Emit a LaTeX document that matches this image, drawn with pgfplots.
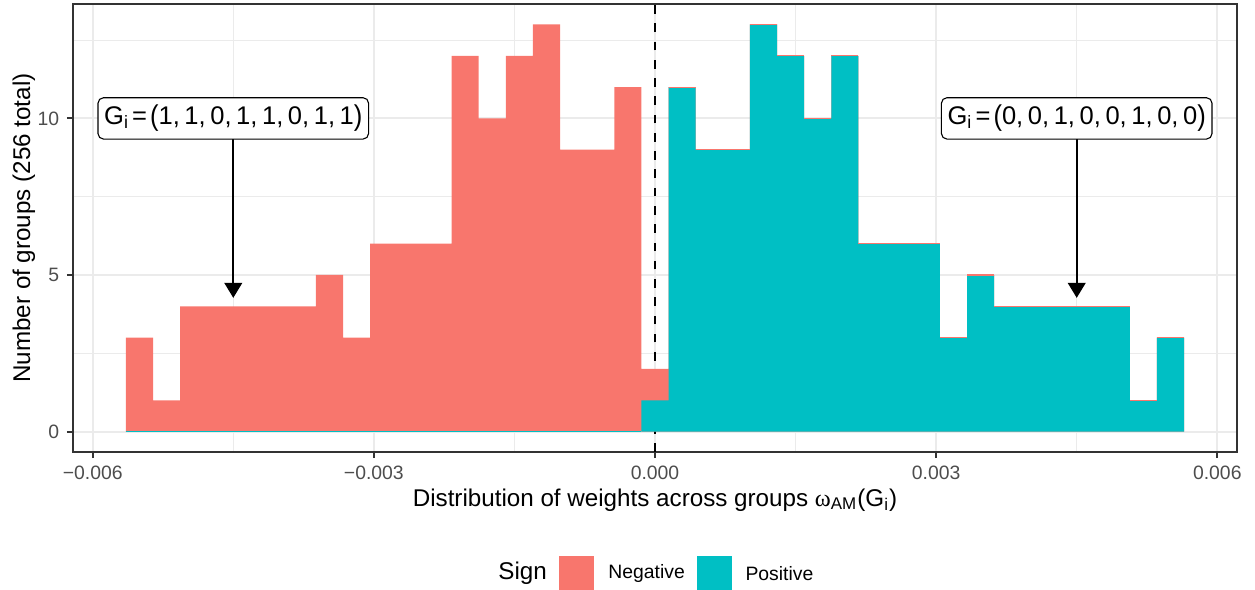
\documentclass[border=0pt]{standalone}
\usepackage{fontspec}
\setmainfont{Liberation Sans}
\newfontfamily\serifom{Liberation Serif}
\usepackage{pgfplots}
\pgfplotsset{compat=1.18}
\usepackage{pgfplotstable}
\usetikzlibrary{arrows.meta}
\definecolor{negc}{HTML}{F8766D}
\definecolor{posc}{HTML}{00BFC4}
\definecolor{gridc}{HTML}{EBEBEB}
\definecolor{gray20}{HTML}{333333}
\definecolor{gray30}{HTML}{4D4D4D}

\pgfplotstableread{
k neg pos
-19 3 0
-18 1 0
-17 4 0
-16 4 0
-15 4 0
-14 4 0
-13 4 0
-12 5 0
-11 3 0
-10 6 0
-9 6 0
-8 6 0
-7 12 0
-6 10 0
-5 12 0
-4 13 0
-3 9 0
-2 9 0
-1 11 0
0 1 1
1 0 11
2 0 9
3 0 9
4 0 13
5 0 12
6 0 10
7 0 12
8 0 6
9 0 6
10 0 6
11 0 3
12 0 5
13 0 4
14 0 4
15 0 4
16 0 4
17 0 4
18 0 1
19 0 3
20 0 0
}\hist

\newcommand{\sep}{,\kern0.18em}
\newcommand{\bp}[1]{\raisebox{-0.04em}{\scalebox{1}[1.12]{#1}}}
\newcommand{\glab}[8]{G\textsubscript{i}\kern0.12em=\kern0.12em\bp{(}#1\sep #2\sep #3\sep #4\sep #5\sep #6\sep #7\sep #8\bp{)}}

\begin{document}
\begin{tikzpicture}
\useasboundingbox (-33.2pt,-62.7pt) rectangle (537.3pt,205.45pt);
\begin{axis}[
  at={(0,0)}, anchor=south west,
  scale only axis, width=529.1pt, height=203.6pt,
  xmin=-0.00621, xmax=0.00621, ymin=-0.65, ymax=13.65,
  axis line style={draw=gray20, line width=1pt},
  xtick={-0.006,-0.003,0,0.003,0.006},
  xticklabels={−0.006,−0.003,0.000,0.003,0.006},
  ytick={0,5,10},
  yticklabels={0,5,10},
  minor xtick={-0.0045,-0.0015,0.0015,0.0045},
  minor ytick={2.5,7.5,12.5},
  grid=both,
  major grid style={draw=gridc, line width=0.9pt},
  minor grid style={draw=gridc, line width=0.45pt},
  tick style={draw=gray20, line width=0.9pt},
  major tick length=2.75pt,
  minor tick length=0pt,
  tick align=outside,
  xtick pos=left, ytick pos=left,
  ticklabel style={font=\fontsize{8.8}{10}\selectfont, text=gray30},
  xticklabel style={yshift=-0.3pt},
  scaled x ticks=false,
]
\addplot[black, line width=1.1pt, dash pattern=on 3.9pt off 4.4pt] coordinates {(0,-0.65) (0,13.65)};
\addplot[ybar interval, fill=negc, draw=none]
  table[x expr={(\thisrow{k}-0.5)*0.0002895}, y expr={\thisrow{neg}+\thisrow{pos}}] {\hist};
\addplot[ybar interval, fill=posc, draw=none]
  table[x expr={(\thisrow{k}-0.5)*0.0002895}, y=pos] {\hist};
\addplot[negc, line width=0.5pt, jump mark left, restrict expr to domain={\thisrow{k}}{1:20}]
  table[x expr={(\thisrow{k}-0.5)*0.0002895}, y=pos] {\hist};
\addplot[posc, line width=0.6pt] coordinates {(-0.00564525,0) (-0.00014475,0)};
\draw[-{Triangle[length=6.8pt,width=8pt]}, line width=0.9pt] (axis cs:-0.0045,9.35) -- (axis cs:-0.0045,4.27);
\draw[-{Triangle[length=6.8pt,width=8pt]}, line width=0.9pt] (axis cs:0.0045,9.35) -- (axis cs:0.0045,4.27);
\node[draw=black, fill=white, rounded corners=2.5pt, line width=0.5pt, inner xsep=2.8pt, minimum height=18.8pt, font=\fontsize{11.6}{13}\selectfont] at (axis cs:-0.0045,10) {\glab{1}{1}{0}{1}{1}{0}{1}{1}};
\node[draw=black, fill=white, rounded corners=2.5pt, line width=0.5pt, inner xsep=2.8pt, minimum height=18.8pt, font=\fontsize{11.6}{13}\selectfont] at (axis cs:0.0045,10) {\glab{0}{0}{1}{0}{0}{1}{0}{0}};
\end{axis}
\node[rotate=90, font=\fontsize{11}{13}\selectfont] at (-22.3pt,101.8pt) {Number of groups (256 total)};
\node[font=\fontsize{11}{13}\selectfont] at (264.55pt,-21.8pt) {Distribution of weights across groups {\serifom ω}\textsubscript{AM}(G\textsubscript{i})};
\node[anchor=west, inner sep=0pt, font=\fontsize{11}{13}\selectfont] at (193.2pt,-55pt) {Sign};
\fill[negc] (220.9pt,-47.3pt) rectangle (236.8pt,-62.6pt);
\node[anchor=west, inner sep=0pt, font=\fontsize{8.8}{10}\selectfont] at (243.2pt,-55.4pt) {Negative};
\fill[posc] (283.6pt,-47.3pt) rectangle (299.5pt,-62.6pt);
\node[anchor=west, inner sep=0pt, font=\fontsize{8.8}{10}\selectfont] at (305.5pt,-55.4pt) {Positive};
\end{tikzpicture}
\end{document}
